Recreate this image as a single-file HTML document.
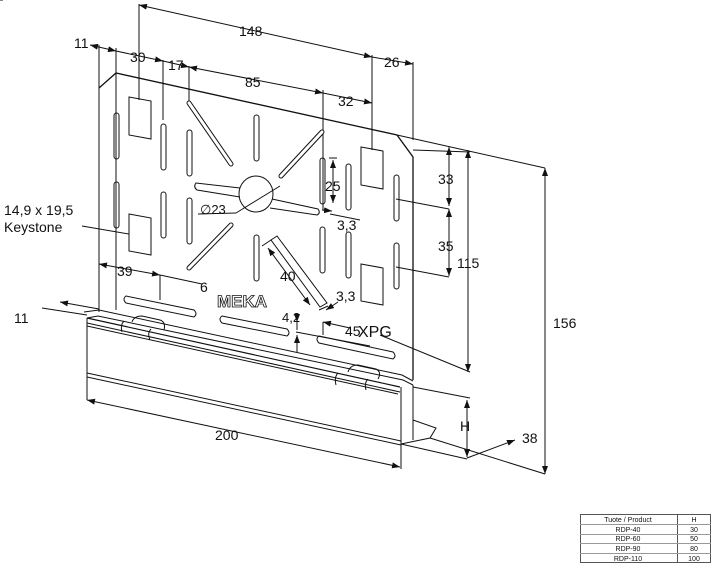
<!DOCTYPE html>
<html><head><meta charset="utf-8"><style>
html,body{margin:0;padding:0;background:#fff}
svg{display:block}
text{font-family:"Liberation Sans",sans-serif;fill:#111}
</style></head><body>
<svg width="712" height="564" viewBox="0 0 712 564" xmlns="http://www.w3.org/2000/svg">
<defs>
<marker id="a" markerWidth="8" markerHeight="6" refX="8" refY="3" orient="auto-start-reverse" markerUnits="userSpaceOnUse"><path d="M0,0 L8,3 L0,6z" fill="#111"/></marker>
</defs>
<g stroke="#111" fill="none" stroke-width="1">
<!-- extension lines top -->
<line x1="99" y1="45" x2="99" y2="312"/>
<line x1="116" y1="48" x2="116" y2="73"/>
<line x1="139" y1="4" x2="139" y2="100"/>
<line x1="163" y1="60" x2="163" y2="120"/>
<line x1="189" y1="66" x2="189" y2="103"/>
<line x1="323" y1="90" x2="323" y2="210"/>
<line x1="372" y1="55" x2="372" y2="150"/>
<line x1="413" y1="62" x2="413" y2="140"/>
<!-- dims top -->
<line x1="139" y1="5" x2="372" y2="57" marker-start="url(#a)" marker-end="url(#a)"/>
<line x1="372" y1="57" x2="413" y2="64" marker-end="url(#a)"/>
<line x1="90" y1="45" x2="116" y2="51" marker-start="url(#a)" marker-end="url(#a)"/>
<line x1="116" y1="51" x2="163" y2="61" marker-end="url(#a)"/>
<line x1="163" y1="61" x2="189" y2="67" marker-end="url(#a)"/>
<line x1="189" y1="67" x2="323" y2="93" marker-start="url(#a)" marker-end="url(#a)"/>
<line x1="323" y1="93" x2="372" y2="103" marker-end="url(#a)"/>
<!-- plate -->
<path d="M99,88 L116,73 L397,135 L413,157 L413,380" stroke-width="1.3"/>
<line x1="116" y1="73" x2="116" y2="310"/>
<!-- top line extension to right -->
<line x1="397" y1="135" x2="545" y2="168"/>
<line x1="413" y1="150" x2="470" y2="152"/>
<line x1="396" y1="199" x2="449" y2="209"/>
<line x1="396" y1="267" x2="449" y2="277"/>
<line x1="449" y1="147" x2="449" y2="206" marker-start="url(#a)" marker-end="url(#a)"/>
<line x1="449" y1="209" x2="449" y2="276" marker-start="url(#a)" marker-end="url(#a)"/>
<line x1="468" y1="150" x2="468" y2="372" marker-start="url(#a)" marker-end="url(#a)"/>
<line x1="545" y1="168" x2="545" y2="474" marker-start="url(#a)" marker-end="url(#a)"/>
<line x1="380" y1="335" x2="470" y2="372"/>
<!-- rectangles (keystone) -->
<path d="M129,97 L151,101 L151,139 L129,135z"/>
<path d="M129,214 L151,218 L151,255 L129,251z"/>
<path d="M361,147 L383,151 L383,189 L361,185z"/>
<path d="M361,264 L383,268 L383,305 L361,301z"/>
<!-- vertical slots -->
<g stroke-width="1">
<rect x="114" y="113" width="5" height="46" rx="2.5"/>
<rect x="114" y="182" width="5" height="46" rx="2.5"/>
<rect x="161" y="124" width="5" height="46" rx="2.5"/>
<rect x="161" y="192" width="5" height="46" rx="2.5"/>
<rect x="187" y="130" width="5" height="46" rx="2.5"/>
<rect x="187" y="198" width="5" height="46" rx="2.5"/>
<rect x="254" y="115" width="5" height="46" rx="2.5"/>
<rect x="254" y="235" width="5" height="46" rx="2.5"/>
<rect x="320" y="158" width="5" height="46" rx="2.5"/>
<rect x="320" y="227" width="5" height="46" rx="2.5"/>
<rect x="346" y="164" width="5" height="46" rx="2.5"/>
<rect x="346" y="232" width="5" height="46" rx="2.5"/>
<rect x="394" y="175" width="5" height="46" rx="2.5"/>
<rect x="394" y="243" width="5" height="46" rx="2.5"/>
</g>
<!-- diagonal slots -->
<line x1="189" y1="103" x2="231" y2="164" stroke-width="5" stroke-linecap="round"/>
<line x1="189" y1="103" x2="231" y2="164" stroke-width="3" stroke="#fff" stroke-linecap="round"/>
<line x1="281" y1="176" x2="322" y2="132" stroke-width="5" stroke-linecap="round"/>
<line x1="281" y1="176" x2="322" y2="132" stroke-width="3" stroke="#fff" stroke-linecap="round"/>
<line x1="189" y1="268" x2="231" y2="225" stroke-width="5" stroke-linecap="round"/>
<line x1="189" y1="268" x2="231" y2="225" stroke-width="3" stroke="#fff" stroke-linecap="round"/>
<path d="M271,240 L277,236 L327,303 L320,307z"/>
<!-- center hole -->
<ellipse cx="256" cy="194" rx="17" ry="18"/>
<path d="M240,188 L196,183 Q193,187 197,190 L240,197"/>
<path d="M272,199 L318,209 Q321,213 317,215 L270,208"/>
<line x1="198" y1="214" x2="236" y2="213"/>
<line x1="236" y1="213" x2="280" y2="186"/>
<!-- dims inside -->
<line x1="329" y1="158" x2="337" y2="158"/>
<line x1="333" y1="160" x2="333" y2="203" marker-start="url(#a)" marker-end="url(#a)"/>
<line x1="322" y1="210" x2="332" y2="211" marker-end="url(#a)"/>
<line x1="330" y1="214" x2="360" y2="220"/>
<line x1="271" y1="240" x2="262" y2="246" />
<line x1="268" y1="248" x2="310" y2="305" marker-start="url(#a)" marker-end="url(#a)"/>
<line x1="319" y1="310" x2="328" y2="306"/>
<line x1="326" y1="310" x2="338" y2="302" marker-start="url(#a)"/>
<line x1="3" y1="0" x2="0" y2="0"/>
<!-- 39 / 6 dims -->
<line x1="99" y1="264" x2="160" y2="275" marker-start="url(#a)" marker-end="url(#a)"/>
<line x1="160" y1="275" x2="202" y2="284"/>
<line x1="160" y1="275" x2="160" y2="300"/>
<!-- bottom slots -->
<path d="M126,296 L194,310 Q198,314 194,317 L126,303 Q122,299 126,296z"/>
<path d="M222,316 L287,329 Q291,333 287,336 L222,323 Q218,319 222,316z"/>
<path d="M319,336 L393,352 Q397,356 393,359 L319,343 Q315,339 319,336z"/>
<!-- 4,2 / 45 dims -->
<line x1="297" y1="315" x2="297" y2="330"/>
<line x1="297" y1="335" x2="297" y2="352" marker-start="url(#a)"/>
<line x1="297" y1="317" x2="297" y2="322" marker-end="url(#a)"/>
<line x1="296" y1="332" x2="370" y2="346"/>
<line x1="323" y1="322" x2="350" y2="328" marker-start="url(#a)"/>
<line x1="323" y1="322" x2="323" y2="335"/>
<!-- base -->
<path d="M84,312 L99,310 L402,375 L413,381"/>
<path d="M87,318 L98,316 L403,380 L413,385" />
<path d="M87,318 L400,387" stroke-width="1.2"/>
<path d="M87,323 L400,392"/>
<path d="M87,326 L398,394"/>
<line x1="87" y1="318" x2="87" y2="400"/>
<line x1="87" y1="373" x2="401" y2="441"/>
<line x1="87" y1="377" x2="401" y2="445"/>
<line x1="401" y1="387" x2="401" y2="444"/>
<line x1="413" y1="385" x2="413" y2="440"/>
<path d="M401,444 L430,438 L436,428 L413,420"/>
<!-- tabs -->
<path d="M132,322 Q134,316 142,316 L160,320 Q166,322 164,330"/>
<path d="M124,321 Q120,325 122,332"/>
<path d="M151,329 Q147,333 150,340"/>
<path d="M348,372 Q350,365 358,365 L376,369 Q382,372 378,379"/>
<path d="M338,373 Q334,377 336,385"/>
<path d="M368,379 Q364,383 366,390"/>
<!-- left 11 -->
<line x1="60" y1="302" x2="99" y2="309" marker-start="url(#a)"/>
<line x1="42" y1="308" x2="87" y2="315" />
<!-- 200 -->
<line x1="87" y1="400" x2="400" y2="467" marker-start="url(#a)" marker-end="url(#a)"/>
<line x1="401" y1="444" x2="401" y2="469"/>
<!-- H and 38 -->
<line x1="413" y1="387" x2="470" y2="398"/>
<line x1="430" y1="438" x2="545" y2="474"/>
<line x1="467" y1="400" x2="467" y2="457" marker-start="url(#a)" marker-end="url(#a)"/>
<line x1="401" y1="444" x2="467" y2="459"/>
<line x1="467" y1="458" x2="515" y2="440" marker-end="url(#a)"/>
<!-- keystone leader -->
<line x1="82" y1="226" x2="129" y2="234"/>
</g>
<g font-size="14">
<text x="239" y="36">148</text>
<text x="74" y="48">11</text>
<text x="130" y="62">30</text>
<text x="168" y="70">17</text>
<text x="245" y="87">85</text>
<text x="338" y="106">32</text>
<text x="384" y="67">26</text>
<text x="325" y="191">25</text>
<text x="337" y="230">3,3</text>
<text x="200" y="214" font-size="13">∅23</text>
<text x="4" y="215">14,9 x 19,5</text>
<text x="4" y="232">Keystone</text>
<text x="117" y="276">39</text>
<text x="280" y="281" transform="rotate(0)">40</text>
<text x="336" y="301">3,3</text>
<text x="200" y="292">6</text>
<text x="282" y="322" font-size="13">4,2</text>
<text x="345" y="336">45</text>
<text x="358" y="337" font-size="16">XPG</text>
<text x="217" y="307" font-size="17" font-weight="bold" fill="none" stroke="#111" stroke-width="0.8" style="fill:none">MEKA</text>
<text x="438" y="184">33</text>
<text x="438" y="251">35</text>
<text x="457" y="268">115</text>
<text x="553" y="328">156</text>
<text x="14" y="323">11</text>
<text x="215" y="440">200</text>
<text x="460" y="431">H</text>
<text x="522" y="443">38</text>
</g>
<!-- table -->
<g font-size="7" fill="#333" text-anchor="middle">
<rect x="580.5" y="514.5" width="130" height="48" fill="none" stroke="#555"/>
<line x1="677.5" y1="514" x2="677.5" y2="563" stroke="#555"/>
<line x1="580" y1="524.5" x2="711" y2="524.5" stroke="#999"/>
<line x1="580" y1="534.5" x2="711" y2="534.5" stroke="#999"/>
<line x1="580" y1="543.5" x2="711" y2="543.5" stroke="#999"/>
<line x1="580" y1="553.5" x2="711" y2="553.5" stroke="#999"/>
<text x="628" y="522">Tuote / Product</text><text x="694" y="522">H</text>
<text x="628" y="532">RDP-40</text><text x="694" y="532">30</text>
<text x="628" y="541">RDP-60</text><text x="694" y="541">50</text>
<text x="628" y="551">RDP-90</text><text x="694" y="551">80</text>
<text x="628" y="561">RDP-110</text><text x="694" y="561">100</text>
</g>
</svg>
</body></html>
